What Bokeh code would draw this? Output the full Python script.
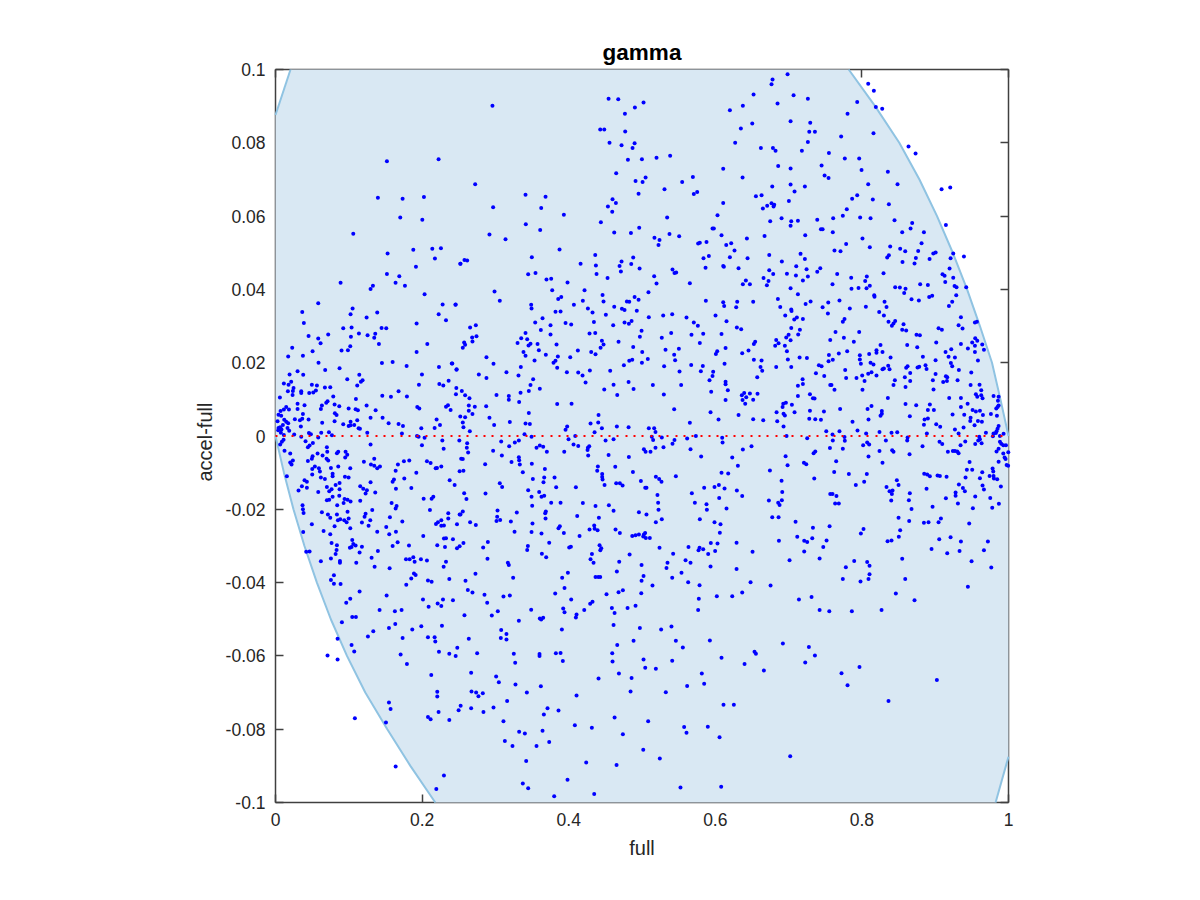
from bokeh.embed import file_html
from bokeh.resources import INLINE
from bokeh.plotting import figure
from bokeh.models import LinearAxis, FixedTicker, Range1d, Title

title_text = "gamma"
x_label = "full"
y_label = "accel-full"
x_ticks = [0, 0.2, 0.4, 0.6, 0.8, 1]
x_tick_labels = ["0", "0.2", "0.4", "0.6", "0.8", "1"]
y_ticks = [-0.1, -0.08, -0.06, -0.04, -0.02, 0, 0.02, 0.04, 0.06, 0.08, 0.1]
y_tick_labels = ["-0.1", "-0.08", "-0.06", "-0.04", "-0.02", "0", "0.02", "0.04", "0.06", "0.08", "0.1"]

# bound curves
upper_left_x = [0, .0205]
upper_left_y = [.0876, .1]
upper_right_x = [.7820, .8180, .8510, .8785, .9025, .9240, .9435, .9610, .9775, .9890, 1]
upper_right_y = [.1, .09, .08, .07, .06, .05, .04, .03, .02, .01, 0]
lower_left_x = [0, .0115, .0245, .0395, .0565, .0755, .0975, .1225, .1525, .1840, .2180]
lower_left_y = [0, -.01, -.02, -.03, -.04, -.05, -.06, -.07, -.08, -.09, -.1]
lower_right_x = [.9824, 1]
lower_right_y = [-.1, -.0875]

points_top_left = [
(.1520,.0750),(.2225,.0755),(.1397,.0650),(.1734,.0647),(.2025,.0652),(.1702,.0596),(.2003,.0590),(.1061,.0552),(.1529,.0498),(.1880,.0508),
(.2139,.0511),(.2257,.0512),(.2175,.0484),(.2521,.0470),(.1916,.0462),(.1520,.0442),(.1689,.0436),(.0888,.0418),(.1638,.0418),(.1329,.0410),
(.1297,.0401),(.1766,.0410),(.2034,.0387),(.0583,.0362),(.2280,.0359),(.2458,.0359),(.1052,.0348),
]
points_top_mid_left = [
(.2960,.0901),(.4544,.0920),(.4676,.0919),(.5021,.0910),(.4903,.0896),(.4767,.0879),(.4430,.0836),(.4485,.0836),(.4771,.0831),(.4557,.0800),
(.4899,.0799),(.4721,.0793),(.4871,.0786),(.4808,.0754),(.4999,.0755),(.4648,.0717),(.4912,.0696),(.5049,.0705),(.5008,.0693),(.2724,.0687),
(.4953,.0661),(.3411,.0658),(.3684,.0653),(.4598,.0646),(.4644,.0636),(.2969,.0624),(.3625,.0622),(.4535,.0626),(.4594,.0612),(.3934,.0604),
(.4439,.0583),(.3415,.0578),(.3611,.0562),(.4621,.0555),(.4849,.0554),(.4962,.0568),(.2919,.0550),(.3138,.0537),(.3875,.0509),(.3497,.0488),
(.4362,.0494),(.4880,.0487),(.4721,.0476),(.4162,.0470),(.4371,.0465),(.4694,.0464),(.4853,.0469),(.4967,.0457),(.2524,.0470),(.2578,.0480),
(.2615,.0479),(.4712,.0449),(.3447,.0441),(.3547,.0445),(.4380,.0442),(.3697,.0427),(.3761,.0429),(.4530,.0431),(.3984,.0419),(.2988,.0394),
(.3775,.0398),(.4216,.0398),(.4462,.0385),(.3060,.0369),(.3898,.0379),(.3857,.0374),(.4899,.0379),(.4953,.0372),(.4193,.0369),(.4475,.0367),
(.4794,.0367),(.4826,.0366),(.2455,.0358),(.3488,.0358),(.4071,.0358),(.4621,.0353),(.4262,.0348),(.3493,.0348),(.4726,.0347),(.4762,.0344),
]
points_top_mid_right = [
(.6986,.0987),(.6781,.0973),(.6767,.0960),(.6522,.0932),(.7068,.0930),(.7263,.0920),(.6376,.0901),(.6849,.0907),(.6199,.0889),(.7027,.0859),
(.7295,.0855),(.6504,.0853),(.6349,.0839),(.7282,.0830),(.7359,.0830),(.6271,.0800),(.7263,.0802),(.6622,.0786),(.6786,.0786),(.6822,.0778),
(.7181,.0778),(.7550,.0772),(.5198,.0759),(.5384,.0765),(.6108,.0729),(.6858,.0737),(.7027,.0730),(.7450,.0738),(.7491,.0711),(.7545,.0704),
(.5694,.0707),(.6372,.0705),(.5548,.0693),(.5307,.0673),(.6777,.0681),(.7027,.0686),(.7222,.0681),(.7081,.0667),(.5753,.0666),(.5707,.0660),
(.6631,.0657),(.6554,.0654),(.6108,.0636),(.6767,.0635),(.6804,.0631),(.6708,.0628),(.6795,.0626),(.6649,.0621),(.7004,.0641),(.6030,.0602),
(.5343,.0596),(.6904,.0594),(.6749,.0586),(.7036,.0586),(.7127,.0587),(.7391,.0590),(.7027,.0574),(.5980,.0566),(.5962,.0566),(.7441,.0564),
(.7464,.0564),(.6085,.0548),(.5375,.0551),(.5507,.0545),(.5170,.0541),(.5239,.0535),(.5225,.0521),(.6672,.0546),(.7227,.0548),(.6431,.0539),
(.5880,.0529),(.5789,.0527),(.5766,.0525),(.6217,.0526),(.6149,.0521),(.6262,.0506),(.7163,.0497),(.6736,.0494),(.5912,.0491),(.5839,.0485),
(.6199,.0488),(.6440,.0485),(.7222,.0483),(.6908,.0476),(.7104,.0463),(.6108,.0464),(.6117,.0462),(.5867,.0459),(.6317,.0458),(.7432,.0458),
(.7245,.0455),(.7391,.0448),(.5416,.0454),(.5466,.0446),(.5443,.0445),(.6736,.0452),(.6790,.0442),(.6977,.0443),(.7100,.0438),(.7263,.0435),
(.5166,.0436),(.6658,.0431),(.6726,.0423),(.7195,.0424),(.6417,.0424),(.5198,.0416),(.5653,.0417),(.6376,.0414),(.6472,.0414),(.6704,.0411),
(.7027,.0403),(.5088,.0392),(.7127,.0387),(.6854,.0374),(.5871,.0369),(.6108,.0365),(.6299,.0366),(.6517,.0366),(.7300,.0367),(.7541,.0364),
(.7232,.0360),(.6121,.0355),(.6886,.0352),(.6285,.0351),(.7464,.0351),(.7036,.0345),
]
points_top_right = [
(.8086,.0961),(.8163,.0942),(.7936,.0911),(.8190,.0898),(.8277,.0893),(.7804,.0879),(.8158,.0826),(.7717,.0817),(.8636,.0790),(.8732,.0771),
(.7767,.0757),(.7963,.0757),(.7995,.0726),(.8354,.0721),(.8086,.0687),(.8486,.0687),(.9087,.0673),(.9205,.0678),(.7936,.0657),(.7867,.0647),
(.8149,.0645),(.8368,.0632),(.7794,.0619),(.7740,.0601),(.7976,.0596),(.8118,.0594),(.7608,.0594),(.8445,.0589),(.8686,.0581),(.9146,.0576),
(.8664,.0566),(.7603,.0556),(.8550,.0556),(.8846,.0556),(.8008,.0539),(.8814,.0526),(.7785,.0524),(.8108,.0515),(.8386,.0517),(.8522,.0511),
(.8591,.0504),(.8768,.0505),(.7626,.0506),(.7708,.0504),(.8974,.0498),(.9006,.0501),(.9246,.0498),(.9392,.0490),(.8368,.0493),(.8345,.0487),
(.8736,.0486),(.8923,.0483),(.9210,.0485),(.8554,.0475),(.8718,.0471),(.9196,.0457),(.8295,.0444),(.7663,.0442),(.9100,.0441),(.9128,.0437),
(.9246,.0432),(.7854,.0432),(.8067,.0435),(.8045,.0423),(.9137,.0420),(.7599,.0414),(.8795,.0414),(.8900,.0412),(.8108,.0410),(.9264,.0409),
(.9291,.0406),(.9423,.0406),(.8454,.0406),(.8518,.0405),(.7858,.0402),(.7954,.0404),(.8063,.0403),(.8595,.0402),(.8577,.0390),(.8168,.0384),
(.8172,.0380),(.8959,.0383),(.8918,.0379),(.9287,.0384),(.7694,.0370),(.8677,.0373),(.8777,.0370),(.8309,.0366),(.9232,.0366),(.9187,.0355),
(.8054,.0353),(.8336,.0352),(.7835,.0348),
]
points_mid_left = [
(.0365,.0338),(.1024,.0332),(.1388,.0337),(.1243,.0323),(.0387,.0308),(.1925,.0307),(.2226,.0332),(.2326,.0316),(.0924,.0294),(.1038,.0296),
(.1447,.0295),(.1511,.0294),(.1138,.0280),(.0451,.0273),(.0719,.0277),(.1256,.0275),(.1361,.0279),(.1029,.0271),(.1347,.0268),(.0583,.0266),
(.0615,.0253),(.1411,.0251),(.2071,.0251),(.0228,.0241),(.1020,.0245),(.0901,.0233),(.0988,.0234),(.0506,.0231),(.1925,.0229),(.0173,.0217),
(.0374,.0219),(.0587,.0200),(.1452,.0199),(.1598,.0202),(.1789,.0191),(.2230,.0188),(.2412,.0198),(.2471,.0182),(.0874,.0185),(.0678,.0180),
(.0301,.0177),(.0192,.0168),(.0378,.0167),(.1143,.0167),(.1998,.0168),(.0979,.0155),(.1188,.0152),(.1165,.0148),(.0214,.0148),(.2362,.0151),
(.0114,.0143),(.0178,.0140),(.0496,.0140),(.0565,.0138),(.1115,.0138),(.1957,.0140),(.2235,.0142),(.2289,.0138),(.0674,.0132),(.0747,.0133),
(.0246,.0131),(.2467,.0131),(.0237,.0123),(.0169,.0122),(.0351,.0122),(.0351,.0117),(.0551,.0124),(.0515,.0119),(.0460,.0117),(.0233,.0112),
(.0788,.0108),(.1457,.0110),(.1575,.0107),(.1679,.0122),(.1793,.0108),(.2462,.0114),(.0060,.0105),(.1097,.0101),(.0710,.0095),(.0692,.0091),
(.0301,.0088),(.0806,.0086),(.0396,.0084),(.1243,.0083),(.0633,.0083),(.0870,.0081),(.0301,.0074),(.0619,.0074),(.0998,.0075),(.1093,.0073),
(.1124,.0070),(.1366,.0070),(.1934,.0079),(.1962,.0075),(.2353,.0084),(.2326,.0080),(.2389,.0071),(.0146,.0079),(.0183,.0072),(.0069,.0068),
(.0114,.0072),(.0041,.0058),(.0078,.0055),(.0374,.0060),(.0810,.0062),(.0833,.0057),(.1297,.0050),(.1461,.0050),(.2521,.0053),(.2198,.0045),
(.0264,.0046),(.0333,.0043),(.0365,.0047),(.0451,.0045),(.1115,.0043),(.0119,.0044),(.0028,.0040),(.0173,.0035),(.0146,.0039),(.0637,.0036),
(.0806,.0040),(.0924,.0032),(.1024,.0039),(.1024,.0029),(.1074,.0030),(.0346,.0026),(.1543,.0035),(.1679,.0033),(.1739,.0027),(.0101,.0030),
(.0064,.0024),(.0041,.0022),(.0082,.0018),(.0037,.0016),(.0164,.0022),(.0187,.0014),(.1134,.0021),(.1152,.0020),(.1989,.0021),(.2171,.0022),
(.2244,.0030),(.0998,.0027),(.1252,.0009),(.1725,.0007),(.0456,.0008),(.0483,.0005),(.0624,.0009),(.0729,.0010),(.0770,.0002),(.0255,.0004),
(.0114,.0003),(.0073,.0009),(.0110,-.0010),(.0087,-.0016),(.0064,-.0023),(.0351,-.0002),(.0583,-.0004),(.1930,.0000),(.1952,-.0002),(.2034,-.0005),
(.2276,-.0012),(.2508,-.0012),(.0410,-.0014),(.0510,-.0019),(.0465,-.0026),(.0442,-.0031),(.0701,-.0031),(.1297,-.0023),(.1998,-.0025),(.2294,-.0035),
(.0123,-.0040),(.0706,-.0043),(.0201,-.0048),(.0856,-.0043),(.0838,-.0047),(.0956,-.0043),(.0979,-.0051),(.0951,-.0059),(.0574,-.0048),(.0642,-.0053),
(.0506,-.0055),(.0496,-.0062),(.0697,-.0062),(.0719,-.0067),(.0442,-.0068),(.0237,-.0067),(.0201,-.0072),(.0219,-.0078),(.1206,-.0070),(.1347,-.0062),
(.1752,-.0069),(.1825,-.0067),(.2066,-.0069),(.2116,-.0074),(.1670,-.0078),(.1302,-.0078),(.1347,-.0081),(.1388,-.0088),(.1425,-.0083),(.2262,-.0083),
(.2185,-.0088),(.2203,-.0087),(.0537,-.0083),(.0592,-.0088),(.0501,-.0090),(.0606,-.0097),(.0756,-.0087),(.0856,-.0083),(.1020,-.0088),(.1639,-.0095),
(.2512,-.0096),(.1921,-.0100),(.0501,-.0105),(.0619,-.0113),(.0779,-.0103),(.0779,-.0110),(.0947,-.0111),(.0997,-.0113),(.0155,-.0110),(.0674,-.0117),
(.0396,-.0121),(.0428,-.0125),(.1757,-.0116),(.1616,-.0119),(.1598,-.0125),(.1297,-.0126),(.2376,-.0121),(.2444,-.0134),(.0360,-.0137),(.0428,-.0141),
(.0314,-.0149),(.0701,-.0139),(.0820,-.0134),(.0874,-.0128),(.0765,-.0145),(.0733,-.0151),(.0874,-.0145),(.1156,-.0137),(.1197,-.0144),(.1247,-.0148),
(.1229,-.0157),(.1361,-.0154),(.1643,-.0144),(.1853,-.0142),(.0583,-.0153),(.0870,-.0163),(.0779,-.0166),(.0701,-.0175),(.0733,-.0174),(.0942,-.0172),
(.0983,-.0174),(.1024,-.0179),(.0929,-.0183),(.1156,-.0177),(.2021,-.0171),(.2130,-.0171),(.2153,-.0166),(.1584,-.0183),(.1652,-.0191),(.1639,-.0198),
(.0369,-.0189),(.0374,-.0200),(.0383,-.0210),(.0842,-.0189),(.2107,-.0202),(.1320,-.0202),(.0633,-.0208),(.0983,-.0207),(.0715,-.0214),(.0838,-.0214),
(.1229,-.0212),(.1215,-.0220),(.0747,-.0223),(.0998,-.0225),(.0851,-.0230),(.0883,-.0227),(.0938,-.0230),(.0970,-.0235),(.2357,-.0211),(.2512,-.0214),
(.1561,-.0222),(.2262,-.0230),(.2357,-.0225),(.2216,-.0235),(.2189,-.0240),(.1293,-.0230),(.1730,-.0233),(.1179,-.0236),(.0496,-.0241),(.0806,-.0246),
(.1020,-.0252),(.1270,-.0245),(.1511,-.0248),(.2262,-.0245),(.2298,-.0244),(.2476,-.0241),(.0378,-.0262),(.0656,-.0259),(.0747,-.0268),(.1388,-.0261),
(.1643,-.0261),(.1552,-.0268),(.2016,-.0273),(.2298,-.0280),(.2326,-.0279),(.2421,-.0282),(.1047,-.0284),(.0765,-.0292),(.0838,-.0298),(.1061,-.0295),
(.1093,-.0299),(.1015,-.0305),(.1038,-.0303),(.1179,-.0302),(.1666,-.0290),(.1598,-.0300),(.1821,-.0299),(.2207,-.0298),(.2312,-.0303),(.2476,-.0306),
(.2512,-.0301),(.0833,-.0311),(.0419,-.0316),(.0465,-.0315),(.1397,-.0314),(.1147,-.0318),(.0820,-.0322),
]
points_mid_mid_left = [
(.3820,.0339),(.3889,.0340),(.4325,.0337),(.4507,.0331),(.3643,.0321),(.3543,.0310),(.3957,.0308),(.4034,.0304),(.3752,.0302),(.4344,.0311),
(.4607,.0302),(.4762,.0310),(.4821,.0306),(.4858,.0314),(.2733,.0302),(.2655,.0296),(.3620,.0289),(.4994,.0287),(.3411,.0281),(.4284,.0280),
(.4362,.0281),(.3752,.0277),(.2742,.0272),(.2683,.0269),(.3352,.0267),(.3434,.0264),(.4971,.0271),(.2687,.0258),(.2574,.0255),(.2587,.0249),
(.2555,.0241),(.3302,.0254),(.3479,.0252),(.3452,.0247),(.3575,.0251),(.3834,.0250),(.4453,.0260),(.4475,.0250),(.4435,.0241),(.4680,.0257),
(.4880,.0243),(.3593,.0234),(.3383,.0229),(.4125,.0233),(.4307,.0229),(.4366,.0223),(.5003,.0229),(.3688,.0222),(.3411,.0219),(.3852,.0217),
(.4021,.0215),(.2878,.0215),(.3820,.0205),(.3534,.0206),(.3793,.0200),(.4826,.0205),(.4867,.0208),(.4999,.0200),(.4753,.0193),(.2974,.0197),
(.2405,.0198),(.2469,.0181),(.3347,.0188),(.3843,.0186),(.4289,.0179),(.4566,.0178),(.3151,.0174),(.3975,.0174),(.4130,.0173),(.2774,.0168),
(.3315,.0165),(.4189,.0165),(.2878,.0158),(.3515,.0155),(.4230,.0146),(.4817,.0147),(.4612,.0140),(.3479,.0139),(.3606,.0129),(.4485,.0127),
(.4885,.0128),(.2542,.0123),(.3456,.0123),(.3343,.0118),(.2587,.0111),(.3015,.0112),(.3183,.0109),(.4662,.0112),(.2646,.0103),(.3183,.0099),
(.3324,.0093),(.3843,.0087),(.4039,.0088),(.2637,.0083),(.2719,.0080),(.2874,.0081),(.2637,.0069),(.2687,.0060),(.3456,.0063),(.2587,.0051),
(.2919,.0050),(.4407,.0057),(.2555,.0037),(.3197,.0038),(.3411,.0034),(.3470,.0033),(.2983,.0030),(.4298,.0034),(.4403,.0037),(.3979,.0026),
(.2564,.0024),(.4453,.0021),(.4657,.0026),(.4817,.0024),(.3957,.0017),(.2651,.0013),(.4353,.0010),(.3397,.0005),(.4089,.0000),(.3493,-.0002),
(.3998,-.0009),(.3320,-.0012),(.3265,-.0018),(.3079,-.0015),(.2615,-.0020),(.4503,-.0012),(.4612,-.0009),(.4066,-.0023),(.4130,-.0027),(.3188,-.0028),
(.3606,-.0026),(.3652,-.0029),(.3561,-.0032),(.2610,-.0032),(.4280,-.0028),(.4262,-.0032),(.4257,-.0038),(.2969,-.0040),(.2628,-.0045),(.3702,-.0043),
(.3939,-.0043),(.5026,-.0036),(.5049,-.0043),(.4266,-.0053),(.4544,-.0052),(.3088,-.0053),(.4821,-.0057),(.2533,-.0062),(.2555,-.0063),(.3320,-.0058),
(.3324,-.0066),(.3220,-.0071),(.3333,-.0078),(.3497,-.0076),(.2860,-.0077),(.4398,-.0083),(.4635,-.0084),(.3675,-.0090),(.2564,-.0095),(.4389,-.0095),
(.3374,-.0099),(.4876,-.0098),(.4457,-.0104),(.4457,-.0112),(.4462,-.0119),(.3666,-.0113),(.3807,-.0113),(.3511,-.0117),(.3656,-.0126),(.4985,-.0123),
(.3060,-.0129),(.3092,-.0139),(.4489,-.0134),(.4648,-.0129),(.4698,-.0129),(.4735,-.0135),(.3829,-.0140),(.4098,-.0140),(.5044,-.0141),(.3447,-.0148),
(.3597,-.0153),(.2574,-.0156),(.2865,-.0157),(.3666,-.0163),(.3629,-.0166),(.3493,-.0166),(.2605,-.0172),(.3761,-.0182),(.3889,-.0182),(.4193,-.0183),
(.4548,-.0189),(.3502,-.0190),(.4366,-.0191),(.3029,-.0203),(.4612,-.0204),(.3688,-.0206),(.3679,-.0211),(.2555,-.0206),(.2524,-.0214),(.3292,-.0209),
(.4958,-.0208),(.4116,-.0218),(.3024,-.0220),(.3684,-.0225),(.4412,-.0223),(.3015,-.0232),(.3065,-.0229),(.3211,-.0233),(.2655,-.0235),(.2733,-.0243),
(.3506,-.0239),(.4348,-.0244),(.3879,-.0246),(.3861,-.0252),(.4284,-.0255),(.4353,-.0253),(.4394,-.0257),(.4639,-.0255),(.3261,-.0261),(.3493,-.0262),
(.3629,-.0266),(.3934,-.0265),(.4698,-.0265),(.4148,-.0273),(.4867,-.0273),(.4912,-.0271),(.4958,-.0269),(.5026,-.0269),(.5017,-.0274),(.2897,-.0289),
(.2564,-.0292),(.3734,-.0291),(.2833,-.0304),(.3443,-.0300),(.3434,-.0311),(.4030,-.0302),(.4007,-.0304),(.4421,-.0298),(.4444,-.0306),(.4431,-.0312),
(.3634,-.0321),(.4317,-.0322),(.4831,-.0323),
]
points_mid_mid_right = [
(.4929,.0342),(.5093,.0324),(.5289,.0329),(.5412,.0332),(.5607,.0323),(.6003,.0329),(.6954,.0329),(.7040,.0341),(.7077,.0318),(.7113,.0323),
(.7195,.0319),(.7536,.0334),(.5707,.0310),(.5762,.0301),(.6153,.0313),(.6294,.0296),(.6353,.0291),(.7036,.0295),(.7154,.0290),(.5398,.0281),
(.5675,.0276),(.5835,.0279),(.6085,.0278),(.5270,.0268),(.7000,.0276),(.7131,.0277),(.6968,.0269),(.7027,.0261),(.6831,.0262),(.6863,.0253),
(.7568,.0262),(.5789,.0254),(.6544,.0257),(.6526,.0251),(.6817,.0246),(.6949,.0246),(.5321,.0235),(.5503,.0238),(.6140,.0240),(.6453,.0233),
(.6026,.0231),(.6008,.0224),(.6367,.0226),(.6977,.0231),(.5439,.0222),(.5079,.0210),(.5452,.0207),(.6526,.0208),(.6631,.0206),(.6990,.0209),
(.7150,.0214),(.7250,.0213),(.7550,.0221),(.7545,.0204),(.6126,.0197),(.5671,.0194),(.5830,.0191),(.5302,.0190),(.6617,.0188),(.6831,.0188),
(.7036,.0188),(.7413,.0193),(.7450,.0190),(.5512,.0176),(.5803,.0177),(.5971,.0175),(.6640,.0178),(.7373,.0171),(.5962,.0164),(.6572,.0160),
(.7486,.0164),(.5921,.0152),(.6140,.0148),(.6140,.0141),(.7191,.0155),(.7195,.0142),(.7127,.0137),(.5148,.0139),(.5534,.0139),(.7568,.0139),
(.6171,.0125),(.5944,.0121),(.5298,.0113),(.6394,.0117),(.6362,.0111),(.6472,.0116),(.6576,.0115),(.6422,.0106),(.6517,.0099),(.6372,.0098),
(.6408,.0088),(.6140,.0098),(.7127,.0109),(.7291,.0114),(.7332,.0103),(.7354,.0102),(.6963,.0091),(.6927,.0088),(.6918,.0079),(.7045,.0085),
(.5439,.0073),(.5935,.0065),(.6836,.0065),(.6931,.0061),(.6949,.0056),(.7081,.0065),(.7291,.0069),(.7482,.0067),(.6317,.0057),(.6044,.0045),
(.6517,.0046),(.6654,.0043),(.6845,.0040),(.7282,.0047),(.7364,.0046),(.7441,.0044),(.5653,.0036),(.6931,.0026),(.5093,.0021),(.5166,.0021),
(.5184,.0011),(.7514,.0013),(.5735,.0000),(.5134,-.0002),(.5270,-.0004),(.5616,-.0007),(.6972,.0000),(.7254,-.0006),(.6094,-.0005),(.5152,-.0011),
(.5443,-.0011),(.5416,-.0021),(.6099,-.0018),(.5293,-.0031),(.5184,-.0032),(.5116,-.0043),(.5662,-.0036),(.6376,-.0037),(.6494,-.0028),(.7564,-.0033),
(.7364,-.0042),(.7341,-.0047),(.6959,-.0055),(.5807,-.0056),(.6231,-.0059),(.7209,-.0073),(.7241,-.0077),(.6986,-.0080),(.6308,-.0081),(.6745,-.0094),
(.6085,-.0100),(.6176,-.0102),(.5462,-.0110),(.5189,-.0111),(.5234,-.0117),(.5266,-.0125),(.7350,-.0116),(.6904,-.0122),(.5061,-.0141),(.5848,-.0141),
(.5989,-.0139),(.6049,-.0134),(.6126,-.0143),(.6294,-.0149),(.6913,-.0153),(.5680,-.0156),(.5211,-.0161),(.6367,-.0164),(.7568,-.0158),(.6053,-.0169),
(.6731,-.0176),(.6908,-.0175),(.5220,-.0182),(.5721,-.0182),(.5880,-.0186),(.6858,-.0182),(.6877,-.0188),(.5225,-.0201),(.5885,-.0201),(.6153,-.0198),
(.5061,-.0214),(.6777,-.0222),(.6863,-.0222),(.5789,-.0227),(.5270,-.0227),(.5189,-.0235),(.5989,-.0235),(.6071,-.0241),(.7095,-.0234),(.7559,-.0246),
(.7332,-.0250),(.6062,-.0264),(.5043,-.0265),(.5052,-.0278),(.5107,-.0278),(.7118,-.0275),(.7323,-.0279),(.7213,-.0286),(.7254,-.0289),(.7518,-.0285),
(.6868,-.0286),(.5939,-.0292),(.6030,-.0293),(.6290,-.0291),(.5634,-.0303),(.5239,-.0305),(.5785,-.0305),(.5835,-.0309),(.5771,-.0312),(.5998,-.0314),
(.7473,-.0303),(.6508,-.0316),(.7213,-.0315),(.5425,-.0321),(.5903,-.0322),
]
points_mid_right = [
(.8236,.0338),(.8300,.0329),(.9351,.0324),(.7763,.0319),(.7740,.0312),(.8363,.0312),(.8454,.0314),(.8431,.0307),(.8409,.0301),(.8568,.0305),
(.9542,.0310),(.9569,.0312),(.9319,.0302),(.9046,.0294),(.9091,.0290),(.9373,.0293),(.8550,.0290),(.8604,.0288),(.7640,.0284),(.7963,.0284),
(.8745,.0276),(.8791,.0275),(.7754,.0268),(.7890,.0257),(.9014,.0255),(.9546,.0267),(.9574,.0260),(.9505,.0255),(.8618,.0248),(.8254,.0248),
(.9351,.0251),(.9542,.0246),(.9642,.0250),(.8755,.0242),(.9219,.0237),(.9446,.0239),(.9665,.0235),(.8199,.0234),(.8199,.0227),(.8281,.0229),
(.7799,.0231),(.9542,.0229),(.9141,.0229),(.7685,.0225),(.8099,.0224),(.7972,.0220),(.7972,.0209),(.7603,.0208),(.8391,.0214),(.8832,.0216),
(.9182,.0216),(.9269,.0214),(.9005,.0207),(.9583,.0206),(.7986,.0197),(.8118,.0200),(.8158,.0195),(.9214,.0199),(.8868,.0193),(.8359,.0192),
(.8623,.0190),(.8604,.0186),(.8782,.0189),(.8759,.0187),(.9232,.0190),(.8300,.0184),(.8281,.0182),(.8377,.0182),(.7772,.0180),(.8882,.0183),
(.9323,.0180),(.9492,.0173),(.8131,.0174),(.8086,.0170),(.9005,.0169),(.8659,.0172),(.8004,.0165),(.8199,.0165),(.7785,.0158),(.7926,.0158),
(.8586,.0160),(.9146,.0163),(.9164,.0160),(.8450,.0152),(.8659,.0150),(.8968,.0152),(.8036,.0150),(.9305,.0152),(.9160,.0150),(.9109,.0147),
(.8431,.0139),(.7585,.0139),(.8595,.0134),(.9483,.0139),(.9605,.0140),(.7626,.0126),(.8008,.0126),(.8977,.0127),(.9628,.0125),(.9555,.0114),
(.9574,.0107),(.9628,.0111),(.9646,.0103),(.9796,.0109),(.9865,.0107),(.8354,.0104),(.9191,.0104),(.9351,.0104),(.9856,.0096),(.8595,.0087),
(.8741,.0084),(.8927,.0086),(.9442,.0088),(.9351,.0079),(.9865,.0083),(.8131,.0082),(.8077,.0074),(.7703,.0074),(.9851,.0079),(.9833,.0075),
(.8900,.0071),(.8982,.0071),(.9510,.0071),(.9555,.0067),(.9610,.0069),(.8272,.0068),(.8272,.0061),(.8254,.0055),(.8654,.0054),(.9237,.0059),
(.9396,.0058),(.9651,.0057),(.9760,.0060),(.9842,.0055),(.9483,.0050),(.8090,.0045),(.8855,.0045),(.8900,.0048),(.9478,.0041),(.9583,.0041),
(.9637,.0039),(.7872,.0039),(.8846,.0031),(.9014,.0032),(.9068,.0025),(.9537,.0029),(.9387,.0023),(.9269,.0018),(.9865,.0027),(.9851,.0020),
(.9837,.0013),(.7940,.0015),(.7694,.0013),(.8240,.0011),(.8404,.0009),(.8482,.0010),(.8886,.0007),(.9319,.0007),(.9692,.0009),(.9796,.0007),
(.9828,.0008),(.7599,.0004),(.8058,.0007),(.9933,.0006),(.9883,.0000),(.9601,-.0002),(.9787,-.0001),(.7763,-.0003),(.8623,-.0004),(.8618,-.0012),
(.8327,-.0012),(.7603,-.0012),(.7767,-.0013),(.9587,-.0012),(.9610,-.0009),(.9410,-.0015),(.9059,-.0016),(.9096,-.0022),(.9633,-.0020),(.9546,-.0022),
(.9883,-.0016),(.9901,-.0021),(.9929,-.0025),(.9965,-.0025),(.8072,-.0018),(.8099,-.0023),(.8017,-.0025),(.9346,-.0025),(.8827,-.0028),(.7740,-.0035),
(.8240,-.0041),(.8413,-.0039),(.8431,-.0043),(.9173,-.0043),(.9241,-.0041),(.9269,-.0041),(.9301,-.0042),(.9319,-.0047),(.9865,-.0035),(.9837,-.0042),
(.9929,-.0048),(.9997,-.0044),(.8650,-.0050),(.8090,-.0056),(.9947,-.0059),(.9960,-.0063),(.7649,-.0069),(.8281,-.0073),(.9469,-.0071),(.9865,-.0070),
(.9974,-.0079),(.9995,-.0081),(.9432,-.0092),(.9505,-.0092),(.9783,-.0089),(.7622,-.0098),(.9792,-.0097),(.9642,-.0099),(.7822,-.0104),(.8067,-.0104),
(.8850,-.0103),(.8891,-.0105),(.8927,-.0110),(.9032,-.0108),(.9064,-.0109),(.9155,-.0111),(.9414,-.0113),(.9610,-.0115),(.9742,-.0109),(.9796,-.0109),
(.9801,-.0116),(.9846,-.0118),(.8477,-.0121),(.8031,-.0125),(.8500,-.0134),(.7917,-.0134),(.9323,-.0132),(.9646,-.0135),(.9896,-.0138),(.8336,-.0139),
(.9378,-.0142),(.9405,-.0151),(.9665,-.0146),(.8882,-.0144),(.8377,-.0151),(.8418,-.0149),(.8409,-.0158),(.8654,-.0156),(.9278,-.0154),(.7599,-.0158),
(.7653,-.0164),(.9278,-.0163),(.9546,-.0165),(.9146,-.0170),(.9751,-.0169),(.8641,-.0175),(.8400,-.0176),(.7635,-.0184),(.7685,-.0184),(.9310,-.0184),
(.9869,-.0185),(.8964,-.0193),(.9514,-.0197),(.9778,-.0196),(.8677,-.0199),(.9078,-.0225),(.8500,-.0223),(.8645,-.0232),(.8846,-.0237),(.8909,-.0235),
(.9046,-.0235),(.9464,-.0239),(.8022,-.0254),(.8522,-.0257),(.7986,-.0266),(.8504,-.0275),(.9210,-.0276),(.9055,-.0282),(.8350,-.0287),(.8404,-.0285),
(.9351,-.0288),(.9719,-.0288),(.8950,-.0308),(.9332,-.0314),(.9665,-.0312),(.9164,-.0320),
]
points_low_left = [
(.1311,-.0332),(.0619,-.0342),(.0756,-.0334),(.0879,-.0341),(.0879,-.0346),(.1102,-.0346),(.1780,-.0336),(.1830,-.0336),(.1880,-.0331),(.1898,-.0343),
(.1984,-.0336),(.2066,-.0340),(.2326,-.0343),(.2294,-.0357),(.1352,-.0357),(.1557,-.0361),(.0797,-.0380),(.1889,-.0375),(.1912,-.0379),(.0756,-.0393),
(.1852,-.0389),(.2080,-.0394),(.2130,-.0398),(.2371,-.0390),(.0797,-.0403),(.0888,-.0404),(.1784,-.0406),(.1147,-.0424),(.1516,-.0435),(.2012,-.0446),
(.1020,-.0444),(.0965,-.0455),(.2285,-.0446),(.2421,-.0448),(.2212,-.0457),(.2262,-.0464),(.2089,-.0466),(.1420,-.0475),(.1629,-.0478),(.1720,-.0475),
(.1047,-.0494),(.1097,-.0494),(.0906,-.0508),(.1634,-.0513),(.1989,-.0519),(.2271,-.0518),(.1548,-.0524),(.1866,-.0528),(.1334,-.0533),(.1261,-.0547),
(.1734,-.0551),(.2080,-.0549),(.2171,-.0549),(.2180,-.0561),(.0847,-.0553),(.1038,-.0570),(.2480,-.0578),(.1074,-.0588),(.2230,-.0589),(.2371,-.0594),
(.2458,-.0600),(.1707,-.0596),(.0710,-.0599),(.0847,-.0610),(.1793,-.0622),(.2125,-.0652),(.2207,-.0698),(.2207,-.0711),(.1548,-.0727),(.1570,-.0745),
(.2498,-.0748),(.2225,-.0753),(.2080,-.0767),(.2116,-.0773),(.2371,-.0775),(.1507,-.0782),(.1083,-.0770),(.1639,-.0902),(.2298,-.0926),(.2194,-.0963),
(.2526,-.0736),
]
points_low_mid_left = [
(.2892,-.0335),(.3693,-.0331),(.4298,-.0336),(.4339,-.0346),(.4689,-.0343),(.3170,-.0346),(.3183,-.0352),(.4994,-.0352),(.2728,-.0376),(.3989,-.0373),
(.4657,-.0370),(.3911,-.0387),(.3242,-.0387),(.4366,-.0385),(.4403,-.0385),(.4430,-.0385),(.5021,-.0382),(.2592,-.0395),(.4994,-.0395),(.3943,-.0415),
(.2624,-.0420),(.2687,-.0427),(.4739,-.0421),(.4680,-.0426),(.2851,-.0433),(.3110,-.0438),(.3197,-.0435),(.3816,-.0430),(.4516,-.0432),(.4990,-.0429),
(.4034,-.0446),(.4325,-.0452),(.4293,-.0458),(.2888,-.0455),(.4912,-.0463),(.3925,-.0471),(.4589,-.0469),(.4803,-.0469),(.3488,-.0474),(.4212,-.0475),
(.3033,-.0478),(.3943,-.0481),(.4626,-.0483),(.2578,-.0489),(.2951,-.0490),(.4107,-.0487),(.4098,-.0495),(.3606,-.0498),(.3652,-.0496),(.3625,-.0501),
(.3320,-.0504),(.4612,-.0516),(.4971,-.0524),(.3907,-.0528),(.3079,-.0529),(.3151,-.0540),(.3074,-.0551),(.3151,-.0555),(.2637,-.0553),(.4885,-.0559),
(.4662,-.0570),(.3251,-.0594),(.3602,-.0595),(.3602,-.0600),(.3825,-.0593),(.3889,-.0592),(.2751,-.0593),(.4594,-.0593),(.3920,-.0614),(.3270,-.0619),
(.4598,-.0615),(.5021,-.0610),(.5044,-.0632),(.2669,-.0646),(.4685,-.0648),(.3010,-.0656),(.4407,-.0662),(.4858,-.0660),(.3047,-.0672),(.3274,-.0678),
(.3620,-.0683),(.2674,-.0697),(.2737,-.0700),(.2769,-.0710),(.2828,-.0702),(.3429,-.0700),(.4844,-.0697),(.4107,-.0708),(.3160,-.0723),(.2669,-.0743),
(.2974,-.0741),(.2837,-.0753),(.3711,-.0743),(.3861,-.0749),(.3661,-.0760),(.4626,-.0768),(.3110,-.0778),(.4084,-.0789),(.4316,-.0796),(.3643,-.0804),
(.3324,-.0807),(.3402,-.0812),(.4739,-.0814),(.3129,-.0832),(.3734,-.0835),(.3233,-.0846),(.3561,-.0846),(.5017,-.0856),(.3420,-.0887),(.4239,-.0891),
(.4653,-.0898),(.3984,-.0938),(.3374,-.0948),(.3447,-.0961),(.3802,-.0983),(.4348,-.0977),
]
points_low_mid_right = [
(.5348,-.0346),(.5334,-.0360),(.5594,-.0339),(.5662,-.0346),(.5935,-.0356),(.6290,-.0363),(.7013,-.0339),(.7423,-.0334),(.5539,-.0373),(.5412,-.0387),
(.5143,-.0408),(.5630,-.0399),(.5785,-.0407),(.6481,-.0399),(.6754,-.0408),(.6367,-.0427),(.6021,-.0437),(.6231,-.0437),(.5775,-.0444),(.7141,-.0446),
(.7313,-.0439),(.5766,-.0475),(.7423,-.0475),(.7555,-.0478),(.5261,-.0528),(.5402,-.0520),(.5926,-.0558),(.5462,-.0559),(.5557,-.0577),(.6922,-.0566),
(.7277,-.0576),(.6535,-.0589),(.6554,-.0594),(.7359,-.0599),(.6085,-.0605),(.5412,-.0613),(.7227,-.0618),(.6399,-.0622),(.5189,-.0635),(.6663,-.0640),
(.5816,-.0648),(.5848,-.0676),(.5616,-.0682),(.5325,-.0699),(.6112,-.0733),(.6253,-.0733),(.5084,-.0778),(.5575,-.0794),(.5898,-.0793),(.5607,-.0810),
(.6058,-.0822),(.5243,-.0880),(.7022,-.0874),(.5525,-.0959),(.6080,-.0957),
]
points_low_right = [
(.8550,-.0335),(.9496,-.0342),(.9765,-.0359),(.7895,-.0341),(.8072,-.0344),(.8104,-.0354),(.7781,-.0358),(.8104,-.0377),(.7740,-.0390),(.7981,-.0397),
(.8090,-.0390),(.8591,-.0390),(.9446,-.0411),(.8463,-.0430),(.8718,-.0448),(.7863,-.0478),(.8268,-.0475),(.7967,-.0630),(.7722,-.0647),(.7804,-.0680),
(.9023,-.0666),(.8363,-.0723),
]
zero_x = [0, 1]
zero_y = [0, 0]

all_points = (points_top_left + points_top_mid_left + points_top_mid_right + points_top_right
              + points_mid_left + points_mid_mid_left + points_mid_mid_right + points_mid_right
              + points_low_left + points_low_mid_left + points_low_mid_right + points_low_right)
full = [pt[0] for pt in all_points]
diff = [pt[1] for pt in all_points]

INK = "#262626"
FONT = "Liberation Sans"

p = figure(width=1192, height=892, output_backend="svg", toolbar_location=None,
           x_range=Range1d(0, 1), y_range=Range1d(-0.1, 0.1),
           x_axis_type=None, y_axis_type=None,
           frame_width=733, frame_height=733,
           min_border_left=275, min_border_right=184, min_border_top=69, min_border_bottom=90,
           background_fill_color="white", border_fill_color="white", outline_line_color=None)
p.grid.visible = False

def style_axis(axis, ticks, labels=None):
    axis.ticker = FixedTicker(ticks=ticks)
    axis.axis_line_color = "#404040"
    axis.axis_line_width = 1.5
    axis.major_tick_line_color = "#404040"
    axis.major_tick_line_width = 1.5
    axis.major_tick_in = 8
    axis.major_tick_out = 0
    axis.minor_tick_line_color = None
    if labels:
        axis.major_label_overrides = dict(zip(ticks, labels))
        axis.major_label_text_font = FONT
        axis.major_label_text_font_size = "17.5px"
        axis.major_label_text_color = INK
        axis.axis_label_text_font = FONT
        axis.axis_label_text_font_size = "20px"
        axis.axis_label_text_font_style = "normal"
        axis.axis_label_text_color = INK
    else:
        axis.major_label_text_color = None

left = LinearAxis()
style_axis(left, y_ticks, y_tick_labels)
left.major_label_standoff = 10
p.add_layout(left, "left")
bottom = LinearAxis(axis_label=x_label)
style_axis(bottom, x_ticks, x_tick_labels)
bottom.major_label_standoff = 10
bottom.axis_label_standoff = 8
p.add_layout(bottom, "below")
right = LinearAxis()
style_axis(right, y_ticks)
p.add_layout(right, "right")
top = LinearAxis()
style_axis(top, x_ticks)
p.add_layout(top, "above")

p.add_layout(Title(text=y_label, align="left", offset=321, standoff=14,
                   text_font=FONT, text_font_size="20px", text_font_style="normal",
                   text_color=INK), "left")

p.title.text = title_text
p.title.align = "center"
p.title.text_font = FONT
p.title.text_font_size = "22.5px"
p.title.text_font_style = "bold"
p.title.text_color = "black"
p.title.offset = 0
p.title.standoff = 9

# the marks go above the axes, so the shaded region hides the box inside it
fill_x = upper_left_x + upper_right_x + lower_right_x[::-1] + lower_left_x[::-1]
fill_y = upper_left_y + upper_right_y + lower_right_y[::-1] + lower_left_y[::-1]
p.patch(fill_x, fill_y, fill_color="#d9e8f3", line_color=None, level="annotation")
for cx, cy in [(upper_left_x, upper_left_y), (upper_right_x, upper_right_y),
               (lower_left_x, lower_left_y), (lower_right_x, lower_right_y)]:
    p.line(cx, cy, line_color="#8fc3e2", line_width=2, level="annotation")

p.scatter(full, diff, size=4, marker="circle", fill_color="#0000ff", line_color=None, level="annotation")
p.line(zero_x, zero_y, line_color="#ff0000", line_width=2, line_dash="2 6 2 6 2 7", level="annotation")

open("out.html", "w").write(file_html(p, INLINE))
